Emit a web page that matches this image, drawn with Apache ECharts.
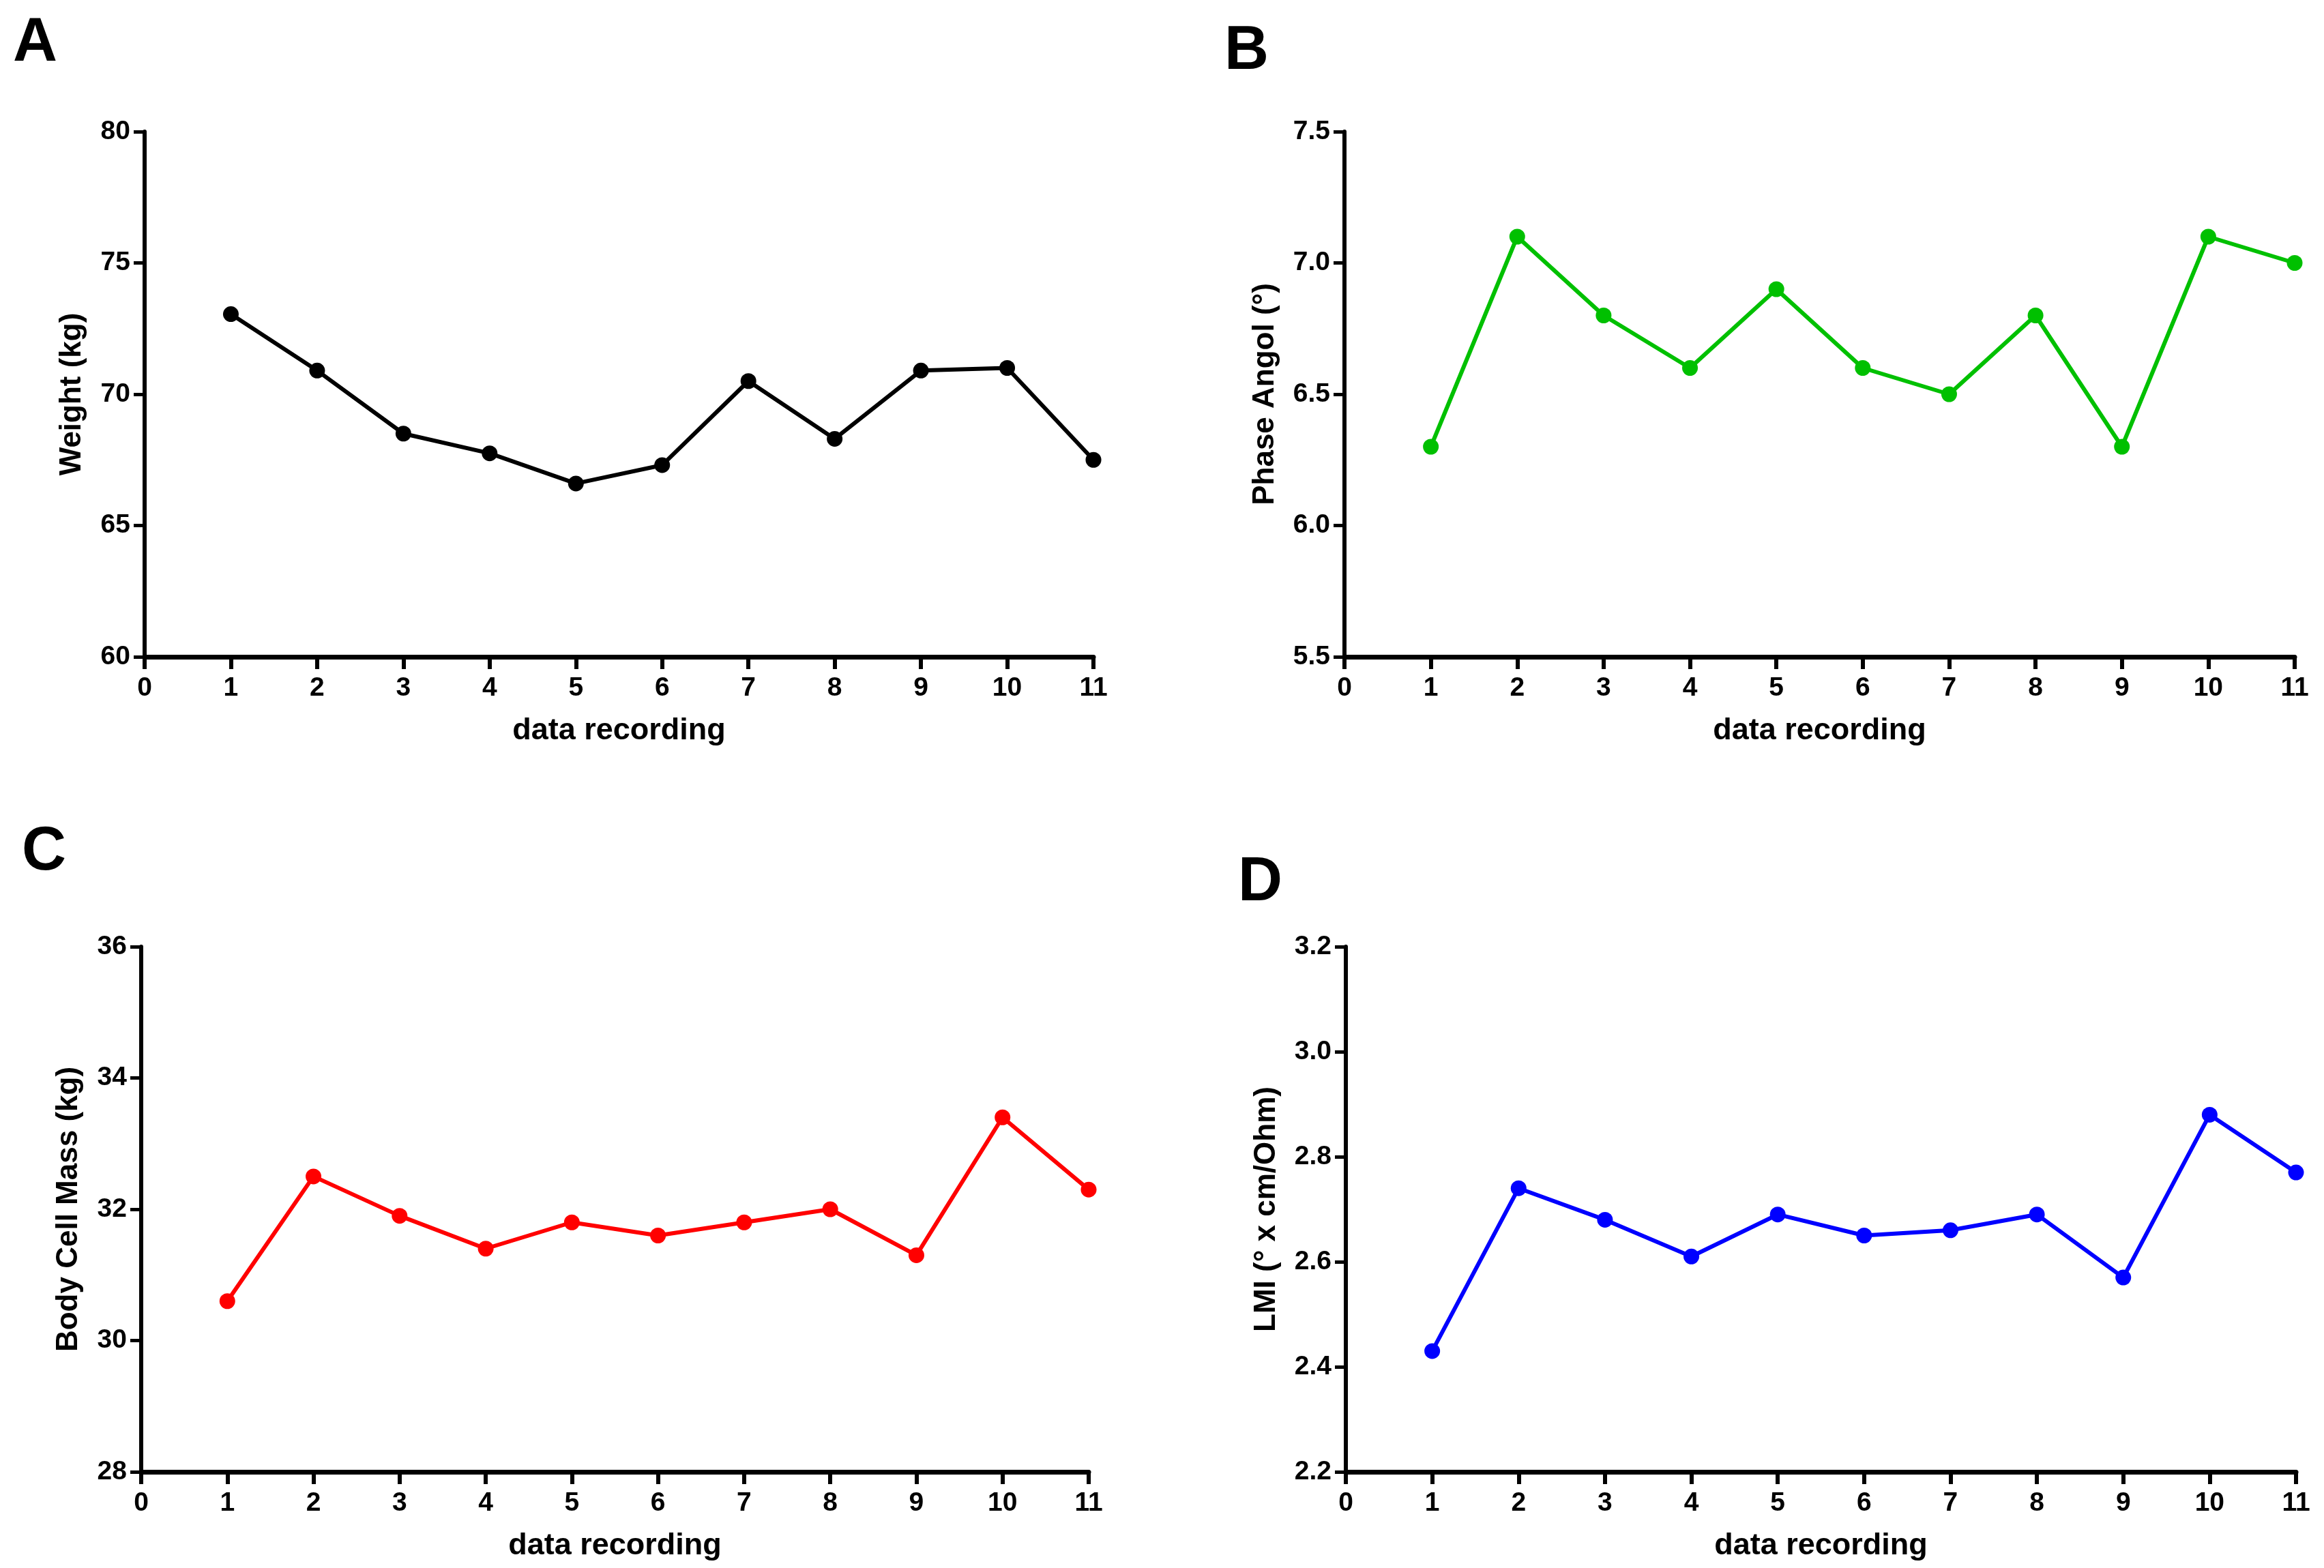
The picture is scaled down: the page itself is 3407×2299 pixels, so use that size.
<!DOCTYPE html>
<html>
<head>
<meta charset="utf-8">
<script src="https://cdn.jsdelivr.net/npm/echarts@6/dist/echarts.min.js"></script>
<style>
html,body{margin:0;padding:0;background:#fff;}
#c{width:3407px;height:2299px;}
</style>
</head>
<body>
<div id="c"></div>
<script>
// ---- data ----
var recordings = [1, 2, 3, 4, 5, 6, 7, 8, 9, 10, 11];
var weight = [73.05, 70.9, 68.5, 67.75, 66.6, 67.3, 70.5, 68.3, 70.9, 71.0, 67.5];
var phaseAngle = [6.3, 7.1, 6.8, 6.6, 6.9, 6.6, 6.5, 6.8, 6.3, 7.1, 7.0];
var bodyCellMass = [30.6, 32.5, 31.9, 31.4, 31.8, 31.6, 31.8, 32.0, 31.3, 33.4, 32.3];
var lmi = [2.43, 2.74, 2.68, 2.61, 2.69, 2.65, 2.66, 2.69, 2.57, 2.88, 2.77];

var panelLetters = ['A', 'B', 'C', 'D'];
var yTitles = ['Weight (kg)', 'Phase Angol (\u00b0)', 'Body Cell Mass (kg)', 'LMI (\u00b0 x cm/Ohm)'];
var xTitle = 'data recording';
var yMin = [60, 5.5, 28, 2.2];
var yMax = [80, 7.5, 36, 3.2];
var yStep = [5, 0.5, 2, 0.2];
var yDecimals = [0, 1, 0, 1];
var colors = ['#000000', '#00c000', '#ff0000', '#0000ff'];
var xMin = 0, xMax = 11, xStep = 1;

var seriesValues = [weight, phaseAngle, bodyCellMass, lmi];

// ---- layout ----
var grids = [
  {left: 212, top: 193, width: 1391, height: 770},
  {left: 1971, top: 193, width: 1393, height: 770},
  {left: 207, top: 1388, width: 1389, height: 770},
  {left: 1973, top: 1388, width: 1393, height: 770}
];
var yNameGap = [84, 94, 84, 94];
var letterPos = [[19, 64], [1795, 76], [32, 1250], [1815, 1295]];

var FONT = '"Liberation Sans", Arial, sans-serif';

var option = {
  backgroundColor: '#ffffff',
  animation: false,
  grid: grids.map(function (g) { return Object.assign({containLabel: false}, g); }),
  xAxis: grids.map(function (g, i) {
    return {
      type: 'value', gridIndex: i, min: xMin, max: xMax, interval: xStep,
      name: xTitle, nameLocation: 'middle', nameGap: 86,
      nameTextStyle: {fontFamily: FONT, fontWeight: 'bold', fontSize: 45, color: '#000'},
      axisLine: {show: true, onZero: false, lineStyle: {color: '#000', width: 7}},
      axisTick: {show: true, length: 18, lineStyle: {color: '#000', width: 6}},
      axisLabel: {fontFamily: FONT, fontWeight: 'bold', fontSize: 39, color: '#000', margin: 27},
      splitLine: {show: false}
    };
  }),
  yAxis: grids.map(function (g, i) {
    return {
      type: 'value', gridIndex: i, min: yMin[i], max: yMax[i], interval: yStep[i],
      name: yTitles[i], nameLocation: 'middle', nameGap: yNameGap[i],
      nameTextStyle: {fontFamily: FONT, fontWeight: 'bold', fontSize: 44, color: '#000'},
      axisLine: {show: true, onZero: false, lineStyle: {color: '#000', width: 6}},
      axisTick: {show: true, length: 16, lineStyle: {color: '#000', width: 5}},
      axisLabel: {
        fontFamily: FONT, fontWeight: 'bold', fontSize: 39, color: '#000', margin: 21,
        formatter: (function (d) { return function (v) { return Number(v).toFixed(d); }; })(yDecimals[i])
      },
      splitLine: {show: false}
    };
  }),
  series: seriesValues.map(function (vals, i) {
    return {
      type: 'line', xAxisIndex: i, yAxisIndex: i,
      data: recordings.map(function (r, k) { return [r, vals[k]]; }),
      symbol: 'circle', symbolSize: 23, showSymbol: true,
      lineStyle: {color: colors[i], width: 6},
      itemStyle: {color: colors[i]},
      z: 5
    };
  }),
  graphic: panelLetters.map(function (t, i) {
    return {
      type: 'text', left: letterPos[i][0], top: letterPos[i][1] - 45,
      style: {text: t, fontFamily: FONT, fontWeight: 'bold', fontSize: 90, fill: '#000'}
    };
  })
};

var chart = echarts.init(document.getElementById('c'), null, {renderer: 'canvas', width: 3407, height: 2299});
chart.setOption(option);
</script>
</body>
</html>
